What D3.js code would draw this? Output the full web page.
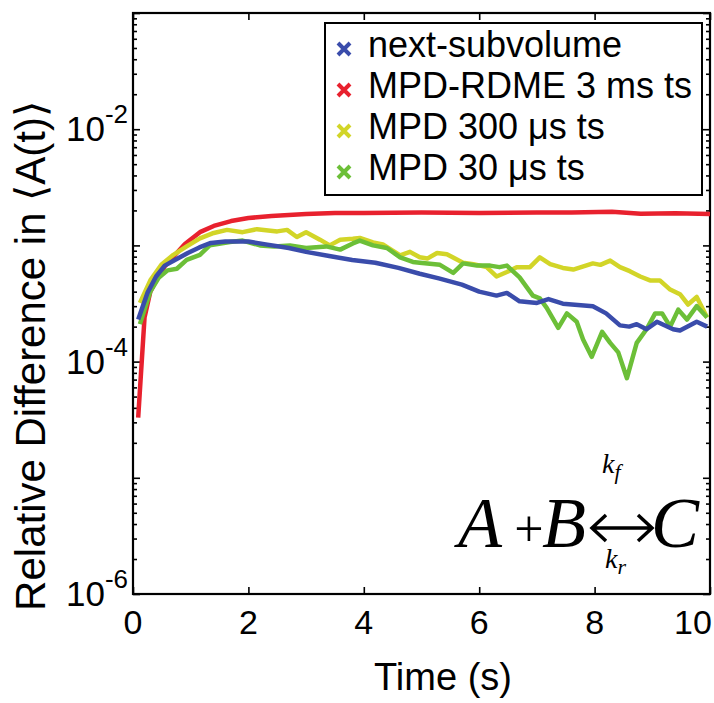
<!DOCTYPE html>
<html>
<head>
<meta charset="utf-8">
<script src="https://cdn.jsdelivr.net/npm/d3@7"></script>
<style>
  body { margin: 0; background: #fff; }
  text { font-family: "Liberation Sans", Arial, Helvetica, sans-serif; fill: #000; }
</style>
</head>
<body>
<script>
var width = 714;
var height = 703;

// time (s) and relative difference values for each run
var blueT = [0.09, 0.25, 0.4, 0.55, 0.75, 0.95, 1.15, 1.35, 1.6, 2.0, 2.3, 2.7, 3.0, 3.4, 3.8, 4.2, 4.6, 4.97, 5.3, 5.7, 6.0, 6.3, 6.48, 6.7, 7.0, 7.2, 7.45, 7.97, 8.2, 8.44, 8.6, 8.73, 8.9, 9.08, 9.36, 9.48, 9.77, 9.95];
var blueV = [2.3e-4, 3.9e-4, 5.4e-4, 6.7e-4, 7.6e-4, 8.6e-4, 9.6e-4, 1.05e-3, 1.08e-3, 1.08e-3, 1.02e-3, 9.5e-4, 8.8e-4, 8.1e-4, 7.5e-4, 7.1e-4, 6.4e-4, 5.7e-4, 5.2e-4, 4.6e-4, 4.0e-4, 3.7e-4, 3.9e-4, 3.3e-4, 3.2e-4, 3.45e-4, 3.15e-4, 3.0e-4, 2.6e-4, 2.05e-4, 2.0e-4, 2.1e-4, 1.9e-4, 2.2e-4, 1.9e-4, 1.85e-4, 2.2e-4, 2.0e-4];

var redT = [0.09, 0.2, 0.3, 0.4, 0.55, 0.7, 0.9, 1.16, 1.4, 1.7, 2.0, 2.4, 3.0, 3.5, 4.0, 5.0, 6.0, 7.0, 7.6, 8.3, 8.8, 9.4, 10.0];
var redV = [3.3e-5, 2.4e-4, 4.0e-4, 5.0e-4, 6.6e-4, 8.0e-4, 1.03e-3, 1.3e-3, 1.47e-3, 1.62e-3, 1.72e-3, 1.79e-3, 1.86e-3, 1.9e-3, 1.9e-3, 1.92e-3, 1.9e-3, 1.92e-3, 1.92e-3, 1.95e-3, 1.87e-3, 1.89e-3, 1.86e-3];

var yellowT = [0.12, 0.3, 0.5, 0.7, 0.93, 1.16, 1.4, 1.63, 1.9, 2.15, 2.5, 2.67, 2.84, 3.0, 3.24, 3.41, 3.59, 3.81, 3.93, 4.16, 4.33, 4.63, 4.8, 4.97, 5.1, 5.27, 5.44, 5.72, 5.9, 6.13, 6.3, 6.48, 6.65, 6.88, 7.05, 7.23, 7.45, 7.63, 7.97, 8.1, 8.27, 8.44, 8.61, 8.79, 8.96, 9.13, 9.3, 9.48, 9.62, 9.77, 9.95];
var yellowV = [3.2e-4, 5.0e-4, 6.9e-4, 8.3e-4, 9.8e-4, 1.15e-3, 1.28e-3, 1.36e-3, 1.3e-3, 1.38e-3, 1.32e-3, 1.36e-3, 1.18e-3, 1.3e-3, 1.12e-3, 1.0e-3, 1.12e-3, 1.14e-3, 1.16e-3, 1.06e-3, 1.02e-3, 8.2e-4, 8.8e-4, 7.9e-4, 7.7e-4, 8.6e-4, 8.4e-4, 7.1e-4, 6.9e-4, 6.5e-4, 5.4e-4, 5.9e-4, 6.5e-4, 6.5e-4, 7.9e-4, 6.9e-4, 6.4e-4, 6.2e-4, 7.0e-4, 6.8e-4, 7.4e-4, 6.5e-4, 6.0e-4, 5.4e-4, 5.0e-4, 5.0e-4, 4.2e-4, 3.8e-4, 3.1e-4, 3.6e-4, 2.4e-4];

var greenT = [0.12, 0.3, 0.45, 0.6, 0.76, 0.93, 1.16, 1.33, 1.68, 1.9, 2.2, 2.45, 2.72, 3.0, 3.35, 3.59, 3.81, 3.93, 4.16, 4.4, 4.63, 4.85, 4.97, 5.32, 5.55, 5.72, 5.96, 6.19, 6.35, 6.48, 6.7, 6.93, 7.05, 7.17, 7.37, 7.52, 7.69, 7.8, 7.95, 8.13, 8.27, 8.41, 8.56, 8.73, 8.9, 9.05, 9.17, 9.31, 9.45, 9.6, 9.77, 9.95];
var greenV = [2.1e-4, 4.0e-4, 5.3e-4, 6.1e-4, 6.3e-4, 7.5e-4, 8.3e-4, 1.0e-3, 1.07e-3, 1.1e-3, 1.0e-3, 9.8e-4, 1.0e-3, 9.5e-4, 9.8e-4, 9.2e-4, 1.04e-3, 1.1e-3, 1.0e-3, 9.5e-4, 7.9e-4, 7.2e-4, 7.1e-4, 6.8e-4, 5.8e-4, 7.0e-4, 6.7e-4, 6.7e-4, 6.5e-4, 6.7e-4, 5.3e-4, 3.7e-4, 3.5e-4, 2.9e-4, 1.95e-4, 2.6e-4, 2.2e-4, 1.55e-4, 1.1e-4, 1.8e-4, 1.45e-4, 1.2e-4, 7.2e-5, 1.45e-4, 1.9e-4, 2.6e-4, 2.6e-4, 2.0e-4, 2.8e-4, 2.3e-4, 3.0e-4, 2.4e-4];

var legendNames = ["next-subvolume", "MPD-RDME 3 ms ts", "MPD 300 \u03bcs ts", "MPD 30 \u03bcs ts"];
var colors = ["#3a4cab", "#e8212e", "#d2d528", "#6cbf38"];

var xTicks = [0, 2, 4, 6, 8, 10];
var yExps = [-6, -5, -4, -3, -2, -1];
var yLabelExps = [-6, -4, -2];

var svg = d3.select("body")
			.append("svg")
			.attr("width", width)
			.attr("height", height);

var plotLeft = 133, plotRight = 710, plotTop = 13, plotBottom = 594;

var x = d3.scaleLinear()
		  .domain([0, 10])
		  .range([plotLeft, plotRight]);

var y = d3.scaleLog()
		  .domain([1e-6, 1e-1])
		  .range([plotBottom, plotTop]);

var majors = yExps.map(function(e){ return Math.pow(10, e); });
var minors = [];
yExps.slice(0, -1).forEach(function(e){
	for (var k = 2; k <= 9; k++) minors.push(k * Math.pow(10, e));
});

function styleAxis(g) {
	g.select(".domain").remove();
	g.selectAll(".tick line").attr("stroke", "#000").attr("stroke-width", 1.6);
	g.selectAll(".tick text").remove();
}

// ticks on all four sides, pointing inward
svg.append("g").attr("transform", "translate(0," + plotBottom + ")")
	.call(d3.axisBottom(x).tickValues(xTicks).tickSize(-7)).call(styleAxis);
svg.append("g").attr("transform", "translate(0," + plotTop + ")")
	.call(d3.axisTop(x).tickValues(xTicks).tickSize(-7)).call(styleAxis);
svg.append("g").attr("transform", "translate(" + plotLeft + ",0)")
	.call(d3.axisLeft(y).tickValues(majors).tickSize(-7)).call(styleAxis);
svg.append("g").attr("transform", "translate(" + plotLeft + ",0)")
	.call(d3.axisLeft(y).tickValues(minors).tickSize(-4)).call(styleAxis);
svg.append("g").attr("transform", "translate(" + plotRight + ",0)")
	.call(d3.axisRight(y).tickValues(majors).tickSize(-7)).call(styleAxis);
svg.append("g").attr("transform", "translate(" + plotRight + ",0)")
	.call(d3.axisRight(y).tickValues(minors).tickSize(-4)).call(styleAxis);

// frame
svg.append("rect")
	.attr("x", plotLeft).attr("y", plotTop)
	.attr("width", plotRight - plotLeft).attr("height", plotBottom - plotTop)
	.attr("fill", "none")
	.attr("stroke", "#000")
	.attr("stroke-width", 2.2);

// x tick labels (the last one is pushed in so it stays inside the page)
svg.selectAll(".xlab")
	.data(xTicks)
	.enter()
	.append("text")
	.attr("x", function(d){ return Math.min(x(d), width - 21); })
	.attr("y", 634)
	.attr("text-anchor", "middle")
	.attr("font-size", 34)
	.text(function(d){ return d; });

// y tick labels 10^k
var yl = svg.selectAll(".ylab")
	.data(yLabelExps)
	.enter()
	.append("text")
	.attr("x", 128)
	.attr("y", function(d){ return y(Math.pow(10, d)) + 12; })
	.attr("text-anchor", "end")
	.attr("font-size", 35);
yl.append("tspan").text("10");
yl.append("tspan").attr("dy", -18).attr("font-size", 26).text(function(d){ return "-" + (-d); });

// axis titles
svg.append("text")
	.attr("x", 443)
	.attr("y", 690)
	.attr("text-anchor", "middle")
	.attr("font-size", 38)
	.text("Time (s)");

svg.append("text")
	.attr("transform", "translate(45,356) rotate(-90)")
	.attr("text-anchor", "middle")
	.attr("font-size", 42)
	.attr("fill", "#222")
	.text("Relative Difference in \u27e8A(t)\u27e9");

// data lines
var series = [
	{t: blueT, v: blueV},
	{t: redT, v: redV},
	{t: yellowT, v: yellowV},
	{t: greenT, v: greenV}
];

var line = d3.line()
	.x(function(d){ return x(d[0]); })
	.y(function(d){ return y(d[1]); });

// red at the back, blue on top, as in the figure
var drawOrder = [1, 2, 3, 0];
svg.append("g")
	.selectAll("path")
	.data(drawOrder)
	.enter()
	.append("path")
	.attr("fill", "none")
	.attr("stroke", function(i){ return colors[i]; })
	.attr("stroke-width", 4.5)
	.attr("stroke-linejoin", "round")
	.attr("d", function(i){ return line(d3.zip(series[i].t, series[i].v)); });

// legend
var lg = svg.append("g");
lg.append("rect")
	.attr("x", 325).attr("y", 23)
	.attr("width", 377).attr("height", 172)
	.attr("fill", "#fff")
	.attr("stroke", "#000")
	.attr("stroke-width", 2);

var rows = lg.selectAll(".row")
	.data(legendNames)
	.enter()
	.append("g")
	.attr("transform", function(d, i){ return "translate(0," + (57 + i * 41) + ")"; });

rows.append("path")
	.attr("d", "M-6,-6L6,6M-6,6L6,-6")
	.attr("transform", "translate(344,-8)")
	.attr("stroke", function(d, i){ return colors[i]; })
	.attr("stroke-width", 4);

rows.append("text")
	.attr("x", 368)
	.attr("y", 0)
	.attr("font-size", 36)
	.text(function(d){ return d; });

// reaction annotation
var serif = "'Liberation Serif', 'Times New Roman', serif";
var eq = svg.append("g");
eq.append("text").attr("x", 458).attr("y", 547).attr("font-size", 72).attr("font-style", "italic")
	.style("font-family", serif).text("A");
eq.append("text").attr("x", 529).attr("y", 546).attr("font-size", 52).attr("text-anchor", "middle")
	.style("font-family", serif).text("+");
eq.append("text").attr("x", 542).attr("y", 547).attr("font-size", 72).attr("font-style", "italic")
	.style("font-family", serif).text("B");
eq.append("text").attr("x", 651).attr("y", 547).attr("font-size", 72).attr("font-style", "italic")
	.style("font-family", serif).text("C");
eq.append("path")
	.attr("d", "M592,528L652,528M606,515L592,528L606,541M638,515L652,528L638,541")
	.attr("fill", "none")
	.attr("stroke", "#000")
	.attr("stroke-width", 3.5);

var kf = eq.append("text").attr("x", 602).attr("y", 473).attr("font-size", 28).attr("font-style", "italic")
	.style("font-family", serif);
kf.append("tspan").text("k");
kf.append("tspan").attr("dy", 6).attr("font-size", 22).text("f");

var kr = eq.append("text").attr("x", 605).attr("y", 568).attr("font-size", 28).attr("font-style", "italic")
	.style("font-family", serif);
kr.append("tspan").text("k");
kr.append("tspan").attr("dy", 6).attr("font-size", 22).text("r");
</script>
</body>
</html>
